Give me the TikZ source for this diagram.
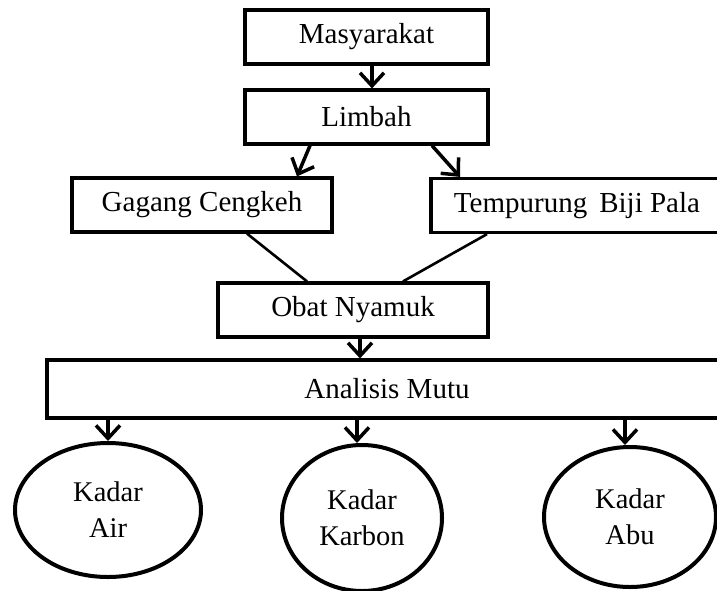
\documentclass[tikz,border=0pt]{standalone}
\usepackage{fontspec}
\setmainfont{Liberation Serif}
\usetikzlibrary{arrows.meta,shapes.geometric}
\begin{document}
\begin{tikzpicture}[x=1pt,y=-1pt,
  box/.style={draw,line width=3.2pt,rectangle,inner sep=0pt,minimum height=54pt,font=\fontsize{29}{34}\selectfont},
  oval/.style={draw,line width=4pt,ellipse,inner sep=0pt,align=center,font=\fontsize{28.5}{36}\selectfont},
  arr/.style={line width=3.5pt,-{Straight Barb[length=13pt,width=24pt,line width=3.5pt]}},
  lnk/.style={line width=2.6pt}]
\useasboundingbox (0,0) rectangle (717,590);
\clip (0,0) rectangle (717,590);
\node[box,minimum width=243pt] (mas) at (366.5,37) {Masyarakat};
\node[box,minimum width=243pt] (lim) at (366.5,117) {Limbah};
\node[box,minimum width=260pt] (gag) at (202,205) {Gagang Cengkeh};
\node[box,minimum width=292pt] (tem) at (577,205.5) {Tempurung\, Biji Pala};
\node[box,minimum width=270pt] (obat) at (353,310) {Obat Nyamuk};
\node[box,minimum width=680pt,minimum height=58pt] (ana) at (387,389) {Analisis Mutu};
\node[oval,minimum width=186pt,minimum height=134pt] (air) at (108,510) {Kadar\\Air};
\node[oval,minimum width=160pt,minimum height=146pt] (kar) at (362,518) {Kadar\\Karbon};
\node[oval,minimum width=172pt,minimum height=140pt] (abu) at (630,517) {Kadar\\Abu};
\draw[arr] (mas.south -| 372,0) -- (lim.north -| 372,0);
\draw[arr] (lim.south -| 310,0) -- (gag.north -| 297,0);
\draw[arr] (lim.south -| 432,0) -- (tem.north -| 460,0);
\draw[lnk] (gag.south -| 247,0) -- (obat.north -| 307,0);
\draw[lnk] (tem.south -| 487,0) -- (obat.north -| 403,0);
\draw[arr] (obat.south -| 360,0) -- (ana.north -| 360,0);
\draw[arr] (ana.south -| 108,0) -- (air.north);
\draw[arr] (ana.south -| 357,0) -- (kar.north -| 357,0);
\draw[arr] (ana.south -| 625,0) -- (abu.north -| 625,0);
\end{tikzpicture}
\end{document}
